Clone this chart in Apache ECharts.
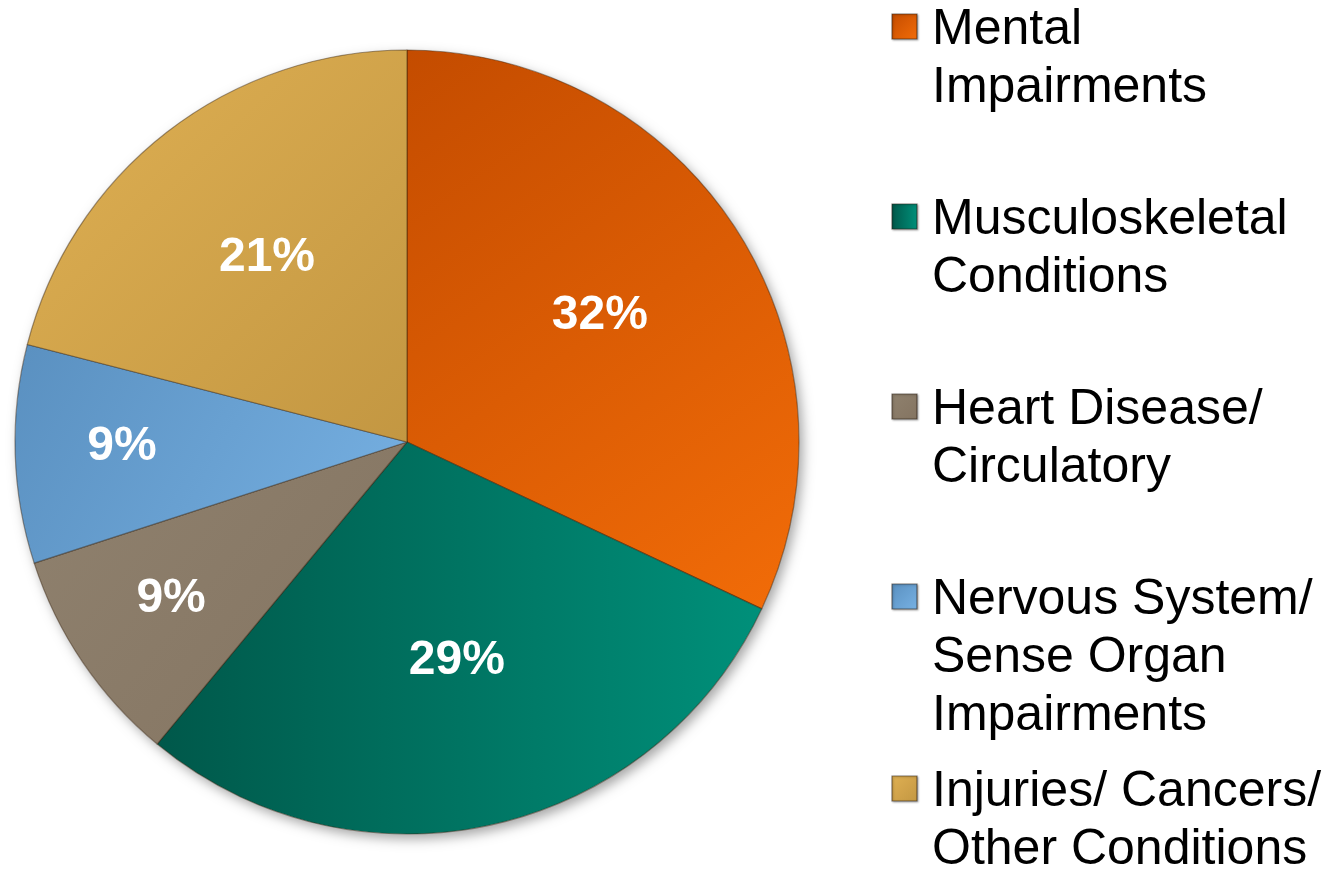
<!DOCTYPE html>
<html><head><meta charset="utf-8">
<script src="https://cdn.jsdelivr.net/npm/echarts@6/dist/echarts.min.js"></script>
<style>html,body{margin:0;padding:0;background:#fff}#c{width:1331px;height:869px}</style>
</head><body><div id="c"></div>
<script>
// ---- data ----
const categories = ['Mental Impairments', 'Musculoskeletal Conditions', 'Heart Disease/ Circulatory', 'Nervous System/ Sense Organ Impairments', 'Injuries/ Cancers/ Other Conditions'];
const legendLines = [['Mental', 'Impairments'], ['Musculoskeletal', 'Conditions'], ['Heart Disease/', 'Circulatory'], ['Nervous System/', 'Sense Organ', 'Impairments'], ['Injuries/ Cancers/', 'Other Conditions']];
const values = [32, 29, 9, 9, 21];

// ---- styles ----
const G = echarts.graphic.LinearGradient;
const grads = [
  [0, 0, 1, 1, '#C44C00', '#F26C08'],
  [0, 0, 1, 0, '#00584A', '#00907A'],
  [0, 0, 1, 1, '#8F816E', '#847461'],
  [0, 0, 1, 1, '#5A90C0', '#77B1E3'],
  [0, 0, 1, 1, '#DFB053', '#C39742']
];
function grad(i) {
  const g = grads[i];
  return new G(g[0], g[1], g[2], g[3], [{ offset: 0, color: g[4] }, { offset: 1, color: g[5] }]);
}
const CX = 407, CY = 442, R = 392;
const FONT = '"Liberation Sans", Arial, Helvetica, sans-serif';

// label placement (radial factor of radius) computed from slice angles
const total = values.reduce((a, b) => a + b, 0);
const mids = [];
let acc = 0;
values.forEach(v => { mids.push((acc + v / 2) / total * Math.PI * 2); acc += v; });
function labelShift(i) {
  const f = values[i] >= 20 ? 0.575 : 0.72;
  const d = (f - 0.5) * R;
  return { dx: d * Math.sin(mids[i]), dy: -d * Math.cos(mids[i]) - 4 };
}

// legend (graphic)
const firstLine = [30, 220, 410, 600, 792];
const graphics = [];
legendLines.forEach((lines, i) => {
  graphics.push({
    type: 'rect', shape: { x: 892, y: firstLine[i] - 16, width: 25, height: 25 },
    style: { fill: grad(i), stroke: 'rgba(40,30,20,0.55)', lineWidth: 1.2,
             shadowBlur: 2, shadowColor: 'rgba(0,0,0,0.35)', shadowOffsetX: 1, shadowOffsetY: 1 }
  });
  graphics.push({
    type: 'text',
    style: { text: lines.join('\n'), x: 932, y: firstLine[i] - 29, verticalAlign: 'top',
             font: '50px ' + FONT, lineHeight: 58, fill: '#000' }
  });
});

const chart = echarts.init(document.getElementById('c'), null, { renderer: 'canvas' });
chart.setOption({
  backgroundColor: '#fff',
  animation: false,
  graphic: graphics,
  series: [
    {
      type: 'pie', silent: true, z: 1,
      center: [CX, CY], radius: [0, R],
      label: { show: false }, labelLine: { show: false },
      itemStyle: { color: '#fff', shadowBlur: 12, shadowOffsetX: 4, shadowOffsetY: 5, shadowColor: 'rgba(0,0,0,0.35)' },
      data: [{ value: 1, name: '' }]
    },
    {
      type: 'pie', z: 2,
      center: [CX, CY], radius: [0, R],
      startAngle: 90, clockwise: true,
      avoidLabelOverlap: false,
      label: {
        show: true, position: 'inside', formatter: '{d}%',
        color: '#fff', fontFamily: FONT, fontWeight: 'bold', fontSize: 48
      },
      labelLine: { show: false },
      labelLayout: function (p) { return labelShift(p.dataIndex); },
      itemStyle: { borderColor: 'rgba(50,30,10,0.45)', borderWidth: 1.2 },
      emphasis: { disabled: true },
      data: categories.map((n, i) => ({ name: n, value: values[i], itemStyle: { color: grad(i) } }))
    }
  ]
});
</script>
</body></html>
